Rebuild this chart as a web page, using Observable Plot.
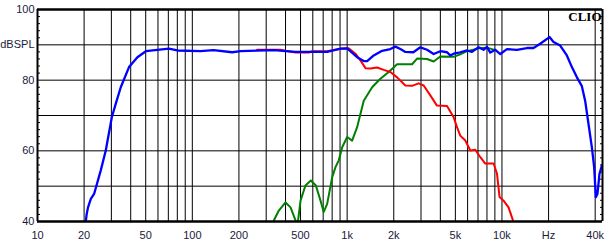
<!DOCTYPE html>
<html><head><meta charset="utf-8">
<script src="https://cdn.jsdelivr.net/npm/d3@7"></script>
<script src="https://cdn.jsdelivr.net/npm/@observablehq/plot@0.6"></script>
<style>
body{margin:0;background:#fff}
#chart{width:610px;height:243px}
</style>
</head><body><div id="chart"></div>
<script>
const xDomain = [10, 44600];
const yDomain = [40, 100];
const xGrid = [20,30,40,50,60,70,80,90,100,200,300,400,500,600,700,800,900,1000,2000,3000,4000,5000,6000,7000,8000,9000,10000,20000,40000];
const yGrid = [50,60,70,80,90];
const yMinor = [42,44,46,48,52,54,56,58,62,64,66,68,72,74,76,78,82,84,86,88,92,94,96,98];
const xTickValues = [10,20,50,100,200,500,1000,2000,5000,10000,20000,40000];
const xTickLabels = ["10","20","50","100","200","500","1k","2k","5k","10k","Hz","40k"];
const yTickValues = [100,90,80,60,40];
const yTickLabels = ["100","dBSPL","80","60","40"];

const blueFreq = [20.5,20.8,21.2,22.1,23.2,25.6,27.6,30.2,32,34.5,39,44.2,50.1,59.4,70.6,80,113,137,181,205,335,464,743,906,1000,1160,1280,1346,1485,1682,1902,2050,2208,2377,2677,2971,3281,3620,3999,4418,4637,4872,5378,5942,6398,7063,7607,8000,8403,9060,9750,10770,12500,14490,15990,17660,20280,21530,23770,26250,28290,30480,32820,34450,36220,38080,39400,40380,41380,42640,44190];
const blueDb = [40,42.2,44,46.4,47.8,54.4,60.1,69.5,73.3,78,83.7,86.5,88.2,88.6,88.9,88.4,88.2,88.5,87.9,88.2,88.5,88,88,88.9,89,86.5,85.4,85.4,87,88.3,88.8,89.5,88.8,88,87.9,89.3,88.6,87.4,88.2,87.9,87,87.5,87.9,88.4,88,89.3,88.6,89.4,87.8,88.6,87.4,88.8,88.6,89.1,89.1,90.3,92.2,90.8,89.8,87,83.7,80.8,78.3,74.2,67.6,61,55.4,46.9,47.8,53.5,55.8];

const redFreq = [262,371,400,464,566,594,743,906,1024,1131,1218,1314,1416,1561,1722,1902,2102,2377,2627,2897,3120,3446,3802,4418,4872,5124,5378,5800,6240,6725,7250,7800,8830,9290,9650,10240,11030,11780];
const redDb = [88.6,88.6,88.3,87.8,87.8,88.2,88.2,88.9,89,87.5,85.6,83.4,83.3,83.6,82.9,82.3,80.8,78.5,78.4,79.1,78.5,75.7,72.8,72.7,69.5,66.7,64.3,62.9,60.1,60.3,58.2,56.4,56.4,53.5,46.9,45.9,44,40.3];

const greenFreq = [336,362,400,431,464,478,500,538,583,628,673,706,743,800,841,883,929,1000,1077,1160,1280,1450,1640,1855,2102,2627,2829,3281,3620,3999,4872,5378,5942,7063,8000,9060];
const greenDb = [40.3,43.1,45.4,44,40.3,39,45.9,50.2,51.6,50.2,45.9,42.7,45,52.5,55.4,57.3,61,63.9,62.9,66.7,74.2,78,80.4,82.3,84.5,84.5,86.1,86,85.3,86.7,86.6,87.3,88.2,89,89.2,88.5];

const toRows = (fs, ds) => fs.map((f, i) => ({f, db: ds[i]}));
const blue = toRows(blueFreq, blueDb);
const red = toRows(redFreq, redDb);
const green = toRows(greenFreq, greenDb);
const xLabels = xTickValues.map((v, i) => ({v, t: xTickLabels[i]}));
const yLabels = yTickValues.map((v, i) => ({v, t: yTickLabels[i]}));
const txt = "#1a1a3a";

const chart = Plot.plot({
  width: 610, height: 243,
  marginLeft: 37, marginRight: 8, marginTop: 9, marginBottom: 22,
  x: {type: "log", domain: xDomain, axis: null},
  y: {domain: yDomain, axis: null},
  style: {background: "#fff", fontFamily: "'Liberation Sans', Arial, sans-serif", fontSize: "11px", color: txt},
  marks: [
    Plot.ruleX(xGrid, {stroke: "#000", strokeWidth: 1}),
    Plot.ruleY(yGrid, {stroke: "#000", strokeWidth: 1}),
    Plot.axisY({ticks: yMinor, tickSize: 3, dx: 3, tickFormat: () => "", label: null, stroke: "#000"}),
    Plot.axisY({anchor: "right", ticks: yMinor, tickSize: 3, dx: -3, tickFormat: () => "", label: null, stroke: "#000"}),
    Plot.text(yLabels, {x: xDomain[0], y: "v", text: "t", textAnchor: "end", dx: -3, fill: txt, fontSize: 11}),
    Plot.text(xLabels, {x: "v", y: yDomain[0], text: "t", textAnchor: "middle", lineAnchor: "top", dy: 10, fill: txt, fontSize: 11}),
    Plot.line(green, {x: "f", y: "db", stroke: "#008000", strokeWidth: 2, clip: true}),
    Plot.line(red, {x: "f", y: "db", stroke: "#ff0000", strokeWidth: 2, clip: true}),
    Plot.line(blue, {x: "f", y: "db", stroke: "#0000ff", strokeWidth: 2.3, clip: true}),
    Plot.ruleX([xDomain[0], xDomain[1]], {stroke: "#000", strokeWidth: 2}),
    Plot.ruleY([yDomain[0], yDomain[1]], {stroke: "#000", strokeWidth: 2.5}),
    Plot.text(["CLIO"], {x: xDomain[1], y: yDomain[1], text: d => d, textAnchor: "end", lineAnchor: "middle", dy: 7, dx: -1, fontFamily: "'Liberation Serif', 'Times New Roman', serif", fontWeight: "bold", fontSize: 13, fill: "#000"})
  ]
});
document.getElementById("chart").appendChild(chart);
</script>
</body></html>
